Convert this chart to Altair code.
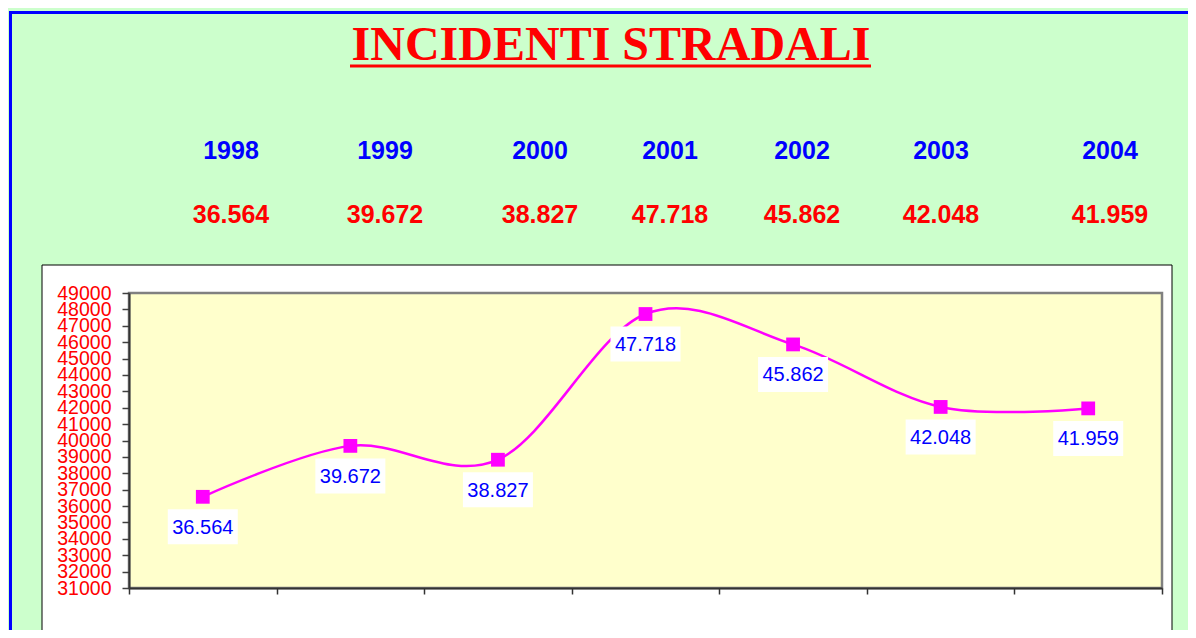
import altair as alt
import pandas as pd

# ---------------- data ----------------
years = ["1998", "1999", "2000", "2001", "2002", "2003", "2004"]
incidenti = [36564, 39672, 38827, 47718, 45862, 42048, 41959]
y_ticks = list(range(31000, 49001, 1000))
title_text = "INCIDENTI STRADALI"

# ---------------- layout ----------------
W, H = 1033, 295
header_x = [102, 256, 411, 541, 673, 812, 981]   # header columns (pixels)


def it_fmt(v):
    return f"{v:,}".replace(",", ".")


labels = [it_fmt(v) for v in incidenti]
df = pd.DataFrame({"idx": list(range(len(years))), "year": years,
                   "v": incidenti, "lab": labels})
hdr = pd.DataFrame({"hx": header_x, "year": years, "lab": labels})
one = pd.DataFrame({"a": [0]})

xs = alt.Scale(domain=[-0.5, len(years) - 0.5], nice=False, zero=False)
ys = alt.Scale(domain=[31000, 49000], nice=False, zero=False)

SANS = "Liberation Sans"

border = alt.Chart(one).mark_rect(fillOpacity=0, stroke="#0000ff", strokeWidth=3).encode(
    x=alt.value(-118.5), x2=alt.value(1300), y=alt.value(-280.5), y2=alt.value(700))
whitebox = alt.Chart(one).mark_rect(fill="white", stroke="black", strokeWidth=1).encode(
    x=alt.value(-87), x2=alt.value(1043), y=alt.value(-28), y2=alt.value(700))
plotbg = alt.Chart(one).mark_rect(fill="#FFFFCC", stroke="#808080", strokeWidth=2.5).encode(
    x=alt.value(0), x2=alt.value(W), y=alt.value(0), y2=alt.value(H))

x_axis = alt.Axis(values=[i - 0.5 for i in range(len(years) + 1)], labels=False,
                  tickSize=6, tickColor="#333333", tickWidth=1.5,
                  domainColor="#333333", domainWidth=2, grid=False, title=None, zindex=1)
y_axis = alt.Axis(values=y_ticks, format="d", labelColor="#ff0000", labelFont=SANS,
                  labelFontSize=19.5, labelPadding=11, tickSize=7, tickColor="#404040",
                  tickWidth=1.5, domainColor="#333333", domainWidth=2, grid=False,
                  title=None, labelOverlap=False, labelFlush=False, labelBound=False, zindex=1)

Y = alt.Y("v:Q", scale=ys, axis=y_axis)

line = alt.Chart(df).mark_line(interpolate="cardinal", tension=0, color="#ff00ff",
                               strokeWidth=2.5).encode(
    x=alt.X("idx:Q", scale=xs, axis=x_axis), y=Y)

points = alt.Chart(df).mark_point(shape="square", filled=True, size=190,
                                  color="#ff00ff", opacity=1).encode(
    x=alt.X("idx:Q", scale=xs, axis=None), y=Y)

boxes = alt.Chart(df).mark_point(shape="M-1,-0.5L1,-0.5L1,0.5L-1,0.5Z", filled=True,
                                 size=4900, color="white", opacity=1, yOffset=30).encode(
    x=alt.X("idx:Q", scale=xs, axis=None), y=Y)

ptlabels = alt.Chart(df).mark_text(dy=37, baseline="alphabetic", font=SANS, fontSize=20,
                                   color="#0000ff").encode(
    x=alt.X("idx:Q", scale=xs, axis=None), y=Y, text="lab:N")

hdr_years = alt.Chart(hdr).mark_text(baseline="alphabetic", font=SANS, fontSize=25,
                                     fontWeight="bold", color="#0000ff").encode(
    x=alt.X("hx:Q", scale=None, axis=None), y=alt.value(-134), text="year:N")
hdr_vals = alt.Chart(hdr).mark_text(baseline="alphabetic", font=SANS, fontSize=25,
                                    fontWeight="bold", color="#ff0000").encode(
    x=alt.X("hx:Q", scale=None, axis=None), y=alt.value(-70), text="lab:N")

title = alt.Chart(one).mark_text(text=title_text, font="Liberation Serif", fontSize=48,
                                 fontWeight="bold", color="#ff0000",
                                 baseline="alphabetic").encode(
    x=alt.value(482), y=alt.value(-233))
underline = alt.Chart(one).mark_rule(color="#ff0000", strokeWidth=3).encode(
    x=alt.value(221), x2=alt.value(742), y=alt.value(-227))

chart = alt.layer(
    border, whitebox, plotbg, line, points, boxes, ptlabels,
    hdr_years, hdr_vals, title, underline
).resolve_scale(x="independent").properties(
    width=W, height=H,
    padding={"left": 121, "top": 285, "right": 26, "bottom": 42},
    autosize=alt.AutoSizeParams(type="none"),
).configure(background="#CCFFCC").configure_view(stroke=None)

chart.save("out.html", embed_options={"renderer": "svg", "actions": False})
